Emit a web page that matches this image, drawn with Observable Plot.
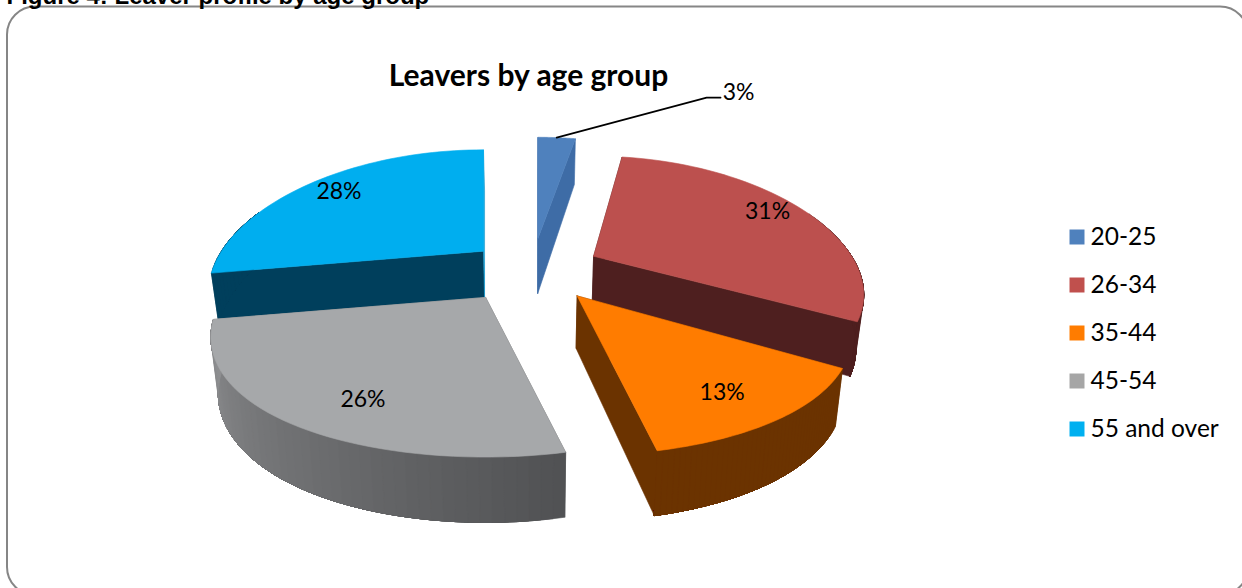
<!DOCTYPE html>
<html>
<head>
<meta charset="utf-8">
<script src="https://cdn.jsdelivr.net/npm/d3@7"></script>
<script src="https://cdn.jsdelivr.net/npm/@observablehq/plot@0.6"></script>
<style>
  html, body { margin: 0; padding: 0; background: #fff; overflow: hidden; }
</style>
</head>
<body>
<div id="chart"></div>
<script>
// Leavers by age group: share of leavers in each band, in percent.
const ageGroups = ["20-25", "26-34", "35-44", "45-54", "55 and over"];
const leaverShares = [3, 31, 13, 26, 28];

const chartTitle = "Leavers by age group";
const figureCaption = "Figure 4: Leaver profile by age group";

// Slice appearance, in the same order as ageGroups.
const topColors = ["#4f81bd", "#bc504e", "#ff7c00", "#a6a8aa", "#00aeef"];
const rimColors = [["#3e6ca6", "#3e6ca6"], ["#4e1f1f", "#4e1f1f"], ["#6b3300", "#6b3300"], ["#505153", "#8f9092"], ["#003f5c", "#003f5c"]];
const startWallColors = ["#3e6ca6", "#4e1f1f", "#6b3300", "#6a6b6d", "#003f5c"];
const endWallColors = ["#3e6ca6", "#4e1f1f", "#6b3300", "#8f9092", "#1b9ed2"];
const legendColors = ["#4f81bd", "#c0504d", "#ff7c00", "#a6a6a6", "#00b0f0"];

// Where each percentage sits inside its slice: fraction of the sweep, fraction of the radius.
const labelSweep = [0.5, 0.49, 0.544, 0.436, 0.5];
const labelRadius = [1, 0.85, 0.8, 0.79, 0.838];

// Fine adjustment of each exploded slice: offset in pixels, radius factor, turn in degrees, wall depth factor.
const nudgeX = [0, 0, 6, -8, 4];
const nudgeY = [0, 0, 3, 4, 2];
const radiusFactor = [1, 0.985, 1, 1, 1];
const turnDegrees = [0, -2.5, 0, 0, 0];
const depthFactor = [1.15, 1, 1, 1, 1];

// Slices are painted back to front.
const paintOrder = [0, 4, 1, 2, 3];

// Perspective view of the tilted disc.
const view = {cx: 531, cy: 268, radiusX: 262, radiusY: 124, foreshortenX: 0.3, foreshortenY: 0.2235,
  explodeX: 68, explodeY: 30, depth: 40, depthGrowth: 0.08, depthFrom: 140, floorShrink: 0.977, floorCx: 530,
  rimBackLimit: 0.35};
const arcSteps = 48;

const pie = d3.pie().sort(null).value((d) => d)(leaverShares);

function onDisc(slice, angle, r) {
  const i = slice.index;
  const mid = (slice.startAngle + slice.endAngle) / 2;
  const turned = angle + turnDegrees[i] * Math.PI / 180;
  const u = radiusFactor[i] * r * Math.sin(turned), v = radiusFactor[i] * r * Math.cos(turned);
  return [
    view.cx + nudgeX[i] + view.explodeX * Math.sin(mid) + view.radiusX * u / (1 + view.foreshortenX * v),
    view.cy + nudgeY[i] - view.explodeY * Math.cos(mid) - view.radiusY * v / (1 + view.foreshortenY * v)
  ];
}

function floorOf(i) {
  return ([x, y]) => [
    view.floorCx + (x - view.floorCx) * view.floorShrink,
    y + depthFactor[i] * (view.depth + view.depthGrowth * (y - view.depthFrom))
  ];
}

// Every face becomes a closed run of vertices, drawn as a filled line.
const faces = [];
let faceId = 0;
function addFace(points, color) {
  const id = faceId++;
  for (const [x, y] of [...points, points[0]]) faces.push({id, x, y, color});
}

for (const i of paintOrder) {
  const s = pie[i];
  const onFloor = floorOf(i);
  const tip = onDisc(s, 0, 0);
  const from = onDisc(s, s.startAngle, 1);
  const to = onDisc(s, s.endAngle, 1);
  addFace([tip, from, onFloor(from), onFloor(tip)], startWallColors[i]);
  addFace([tip, to, onFloor(to), onFloor(tip)], endWallColors[i]);
  const shade = d3.interpolateRgb(rimColors[i][0], rimColors[i][1]);
  const angles = d3.range(arcSteps + 1).map((k) => s.startAngle + (s.endAngle - s.startAngle) * k / arcSteps);
  const arc = angles.map((a) => onDisc(s, a, 1));
  // The rim facing away from the viewer is left out. Each band runs on to the end of
  // the visible arc, so the next one paints over it and no seam shows.
  const nearArc = arc.filter((_, k) => Math.cos(angles[k]) < view.rimBackLimit);
  for (let k = 0; k < nearArc.length - 1; k++) {
    const rest = nearArc.slice(k);
    addFace([...rest, ...rest.map(onFloor).reverse()], shade((k + 0.5) / (nearArc.length - 1)));
  }
  addFace([tip, ...arc], topColors[i]);
}

// Percent labels; the smallest slice takes an outside label with a leader line.
const labels = pie.map((s, i) => {
  const [x, y] = onDisc(s, s.startAngle + (s.endAngle - s.startAngle) * labelSweep[i], labelRadius[i]);
  return {x, y, text: `${leaverShares[i]}%`, i};
});
const outside = labels[0];
const leader = [
  {x: outside.x, y: outside.y},
  {x: outside.x + 150, y: outside.y - 40},
  {x: outside.x + 164, y: outside.y - 40}
];

const legendRows = ageGroups.map((name, i) => ({name, color: legendColors[i], row: 236.5 + i * 48}));

const font = "Lato, 'Open Sans', sans-serif";

const chart = Plot.plot({
  width: 1242,
  height: 588,
  margin: 0,
  x: {domain: [0, 1242], range: [0, 1242], axis: null},
  y: {domain: [0, 588], range: [0, 588], axis: null},
  color: {type: "identity"},
  style: {background: "#fff", overflow: "hidden"},
  marks: [
    Plot.rect([{x1: 7, x2: 1248, y1: 6.5, y2: 595}], {
      x1: "x1", x2: "x2", y1: "y1", y2: "y2", rx: 28, fill: "#fff", stroke: "#868686", strokeWidth: 2
    }),
    Plot.line(faces, {x: "x", y: "y", z: "id", fill: "color", stroke: "color", strokeWidth: 0.6}),
    Plot.line(leader, {x: "x", y: "y", stroke: "#000", strokeWidth: 1.6}),
    Plot.text(labels.slice(1), {x: "x", y: "y", text: "text", fontSize: 23, fontFamily: font, fill: "#000"}),
    Plot.text([outside], {x: "x", y: "y", text: "text", dx: 182, dy: -45, fontSize: 23, fontFamily: font, fill: "#000"}),
    Plot.text([chartTitle], {x: 528, y: 76, text: (d) => d, fontSize: 30, fontWeight: 700, fontFamily: font, fill: "#000"}),
    Plot.text([figureCaption], {x: 6, y: -4.2, text: (d) => d, textAnchor: "start", fontSize: 24, fontWeight: 700, fontFamily: "'Liberation Sans', Arial, sans-serif", fill: "#000"}),
    Plot.dot(legendRows, {x: 1076.5, y: "row", symbol: "square", r: 8.46, fill: "color"}),
    Plot.text(legendRows, {x: 1090, y: "row", text: "name", textAnchor: "start", fontSize: 24.5, fontFamily: font, fill: "#000"})
  ]
});

document.getElementById("chart").appendChild(chart);
</script>
</body>
</html>
